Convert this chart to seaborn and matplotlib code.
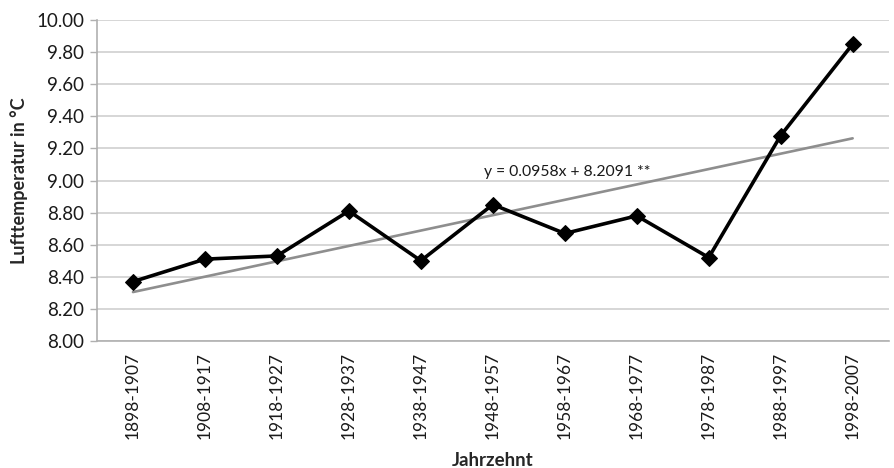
import matplotlib
matplotlib.use("Agg")
import matplotlib.pyplot as plt
import seaborn as sns
import numpy as np
import pandas as pd

# Data
decades = ["1898-1907", "1908-1917", "1918-1927", "1928-1937", "1938-1947",
           "1948-1957", "1958-1967", "1968-1977", "1978-1987", "1988-1997",
           "1998-2007"]
temps = [8.37, 8.51, 8.53, 8.81, 8.50, 8.85, 8.67, 8.78, 8.52, 9.28, 9.85]

# Linear trend as printed on the chart
slope = 0.0958
intercept = 8.2091
trend_label = "y = 0.0958x + 8.2091 **"

y_ticks = [8.00, 8.20, 8.40, 8.60, 8.80, 9.00, 9.20, 9.40, 9.60, 9.80, 10.00]

df = pd.DataFrame({"pos": np.arange(len(decades)), "decade": decades, "temp": temps})
df["trend"] = intercept + slope * (df["pos"] + 1)

sns.set_theme(style="white")
plt.rcParams["font.family"] = ["Lato", "DejaVu Sans"]

fig = plt.figure(figsize=(8.94, 4.68), dpi=100)
ax = fig.add_axes([0.1085, 0.2714, 0.8855, 0.6858])

sns.lineplot(data=df, x="pos", y="trend", color="#8e8e8e", linewidth=1.9, ax=ax, zorder=2)
sns.lineplot(data=df, x="pos", y="temp", color="black", linewidth=2.6, marker="D",
             markersize=8, markeredgecolor="black", ax=ax, zorder=3)

ax.text(4.88, 9.05, trend_label, fontsize=11.3, color="#1a1a1a", va="center", ha="left")

ax.set_xlim(-0.5, len(decades) - 0.5)
ax.set_ylim(8.0, 10.0)
ax.set_yticks(y_ticks)
ax.set_yticklabels([f"{v:.2f}" for v in y_ticks], fontsize=13.5, color="#1a1a1a")
ax.yaxis.grid(True, color="#cfcfcf", linewidth=1.2)
ax.set_axisbelow(True)

ax.set_xticks(df["pos"])
ax.set_xticklabels(decades, rotation=90, fontsize=12.5, color="#1a1a1a")
ax.set_xticks(np.arange(-0.5, len(decades)), minor=True)
ax.tick_params(axis="x", which="major", length=0, pad=8)
ax.tick_params(axis="x", which="minor", length=5, color="#b0b0b0", width=1, direction="out")
ax.tick_params(axis="y", length=5, color="#b0b0b0", width=1, direction="out", left=True, pad=4)

for side in ["top", "right"]:
    ax.spines[side].set_visible(False)
for side in ["left", "bottom"]:
    ax.spines[side].set_color("#b0b0b0")
    ax.spines[side].set_linewidth(1.2)

ax.set_xlabel("Jahrzehnt", fontsize=13.5, fontweight="bold", labelpad=9)
ax.set_ylabel("Lufttemperatur in °C", fontsize=13, fontweight="bold", labelpad=6)

fig.savefig("out.png", dpi=100)
